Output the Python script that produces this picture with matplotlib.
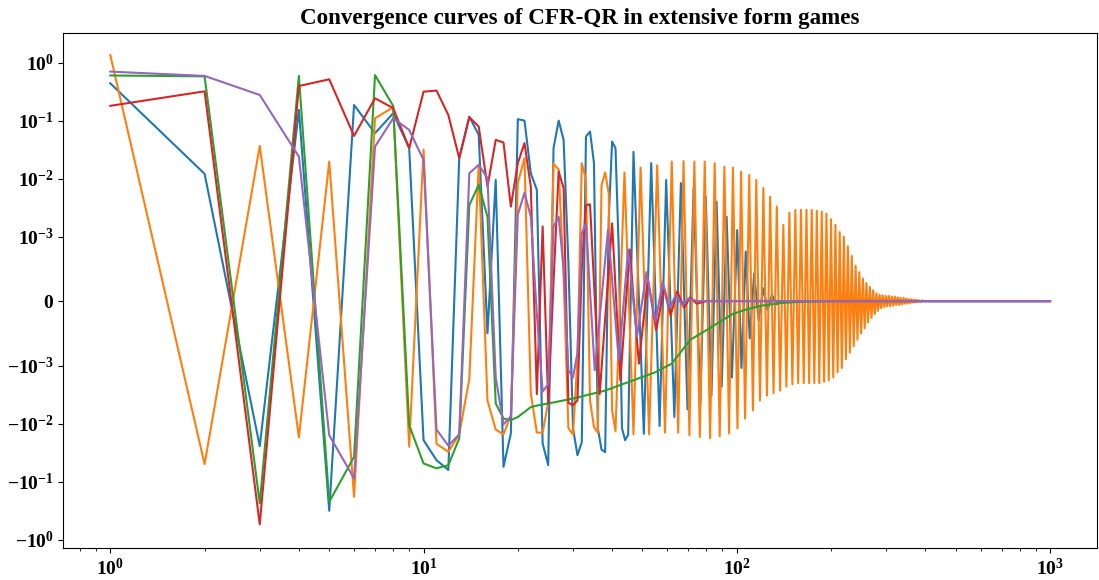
import matplotlib
matplotlib.use("Agg")
import matplotlib.pyplot as plt
from matplotlib.ticker import NullLocator

plt.rcParams['font.family'] = ['Liberation Serif', 'DejaVu Serif']
plt.rcParams['font.weight'] = 'bold'

# Iterations: every iteration at the start, then only the turning points
# of the oscillations, then the flat tail.
it_blue = list(range(1, 46)) + [
    46.8, 50.5, 53.3, 56.7, 59.5, 63.2, 66.3, 69.6, 72.8, 76.5, 79.6, 83,
    86.2, 89.5, 92.8, 96.5, 100.3, 103.5, 106.8, 110, 113.6, 117.5, 121.5,
    125.5, 129.5, 134, 140, 1000]
blue = [
    0.44, 0.0121, -0.0245, 0.153, -0.318, 0.186, 0.0607, 0.134, 0.0335, -0.0193,
    -0.0427, -0.063, 0.0225, 0.117, 0.057, -0.0005, 0.0095, -0.0556, -0.0148, 0.106,
    0.10, 0.0124, 0.0064, -0.022, -0.052, 0.0335, 0.10, 0.0466, 0.0006, -0.012,
    -0.035, -0.021, 0.053, 0.065, 0.0185, -0.012, -0.028, -0.031, 0.002, 0.0436,
    0.0335, 0.0008, -0.012, -0.0193, -0.0155,
    0.029, -0.015, 0.0185, -0.011, 0.0095, -0.0077, 0.0084, -0.0057, 0.0069, -0.0045,
    0.0049, -0.0033, 0.0040, -0.0023, 0.0022, -0.0016, 0.0013, -0.0011, 0.00077,
    -0.00058, 0.00043, -0.0003, 0.0002, -0.00014, 0.0001, -0.00005, 0.0, 0.0]

it_orange = list(range(1, 42)) + [
    43.8, 46.8, 49.3, 52.5, 55.7, 59, 62, 65, 67.6, 70.6, 73.2, 76.2, 79, 82.2,
    85, 88.2, 91.3, 94.5, 97.2, 100.5, 103.2, 106.3, 109.6, 112.6, 115.4, 118.6,
    121.6, 124.8, 127.8, 131, 134.2, 137.5, 140.8, 144, 147.2, 150.5, 153.8, 157,
    160.3, 163.6, 166.9, 170.2, 173.5, 176.8, 180.1, 183.4, 186.7, 190, 193.3,
    196.6, 199.9, 203.2, 206.5, 209.8, 213.1, 216.4, 219.7, 223, 226.3, 229.6,
    232.9, 236.2, 239.5, 242.8, 246.1, 249.4, 252.7, 256, 259.3, 262.6, 265.9,
    269.2, 272.5, 275.8, 279.1, 282.4, 285.7, 289, 292.3, 295.6, 299, 302, 305.5,
    309, 312.5, 316, 319.5, 323, 326.5, 330, 333.5, 337, 340.5, 344, 347.5, 351,
    354.5, 358, 361.5, 365, 368.5, 372, 375.5, 379, 382.5, 386, 389.5, 400, 1000]
orange = [
    1.35, -0.05, 0.0367, -0.0173, 0.0197, -0.183, 0.11, 0.17, -0.025, 0.0316,
    -0.0223, -0.0307, -0.0153, -0.0017, 0.0173, -0.004, -0.0127, -0.0153, -0.0072, 0.0084,
    0.0225, -0.003, -0.0143, -0.0143, -0.0043, 0.018, 0.0144, 0.0004, -0.012, -0.0153,
    -0.0009, 0.0185, 0.0095, -0.004, -0.0114, -0.0143, 0.0077, 0.0128, 0.0056, -0.006,
    -0.0135,
    0.0128, -0.0153, 0.0155, -0.0153, 0.017, -0.0143, 0.0197, -0.0143, 0.02, -0.016,
    0.0197, -0.017, 0.0197, -0.018, 0.0185, -0.0165, 0.0161, -0.0148, 0.0155, -0.0121,
    0.0132, -0.0082, 0.0116, -0.0059, 0.0095, -0.004, 0.0069, -0.0033, 0.0049, -0.003,
    0.0033, -0.0027, 0.0016, -0.0023, 0.0026, -0.0021, 0.0029, -0.002, 0.0029, -0.002,
    0.0029, -0.002, 0.0029, -0.002, 0.0028, -0.002, 0.0027, -0.0019, 0.0025, -0.0018,
    0.0020, -0.0016, 0.0016, -0.0013, 0.0012, -0.0011, 0.0010, -0.0009, 0.00085, -0.0008,
    0.0007, -0.0007, 0.00055, -0.0006, 0.00045, -0.0005, 0.00035, -0.00042, 0.00028, -0.00033,
    0.00022, -0.00026, 0.00017, -0.0002, 0.00012, -0.00015, 0.0001, -0.00011, 0.00009, -0.00009,
    0.00008, -0.00008, 0.00008, -0.00008, 0.00007, -0.00007, 0.00007, -0.00006, 0.00006, -0.00006,
    0.00005, -0.00005, 0.00005, -0.00004, 0.00004, -0.00004, 0.00003, -0.00003, 0.00003, -0.00002,
    0.00002, -0.00002, 0.00002, -0.00001, 0.00001, -0.00001, 0.00001, 0.0, 0.0]

it_green = list(range(1, 24)) + [
    25, 30, 38, 48, 55, 62, 71, 80, 87, 97, 107, 120, 138, 160, 200, 1000]
green = [
    0.60, 0.58, -0.237, 0.59, -0.223, -0.0374, 0.61, 0.179, -0.0107, -0.0486,
    -0.059, -0.052, -0.018, 0.0035, 0.0078, 0.0022, -0.0045, -0.0082, -0.0087, -0.0077,
    -0.0063, -0.0052, -0.0049,
    -0.0045, -0.0037, -0.0027, -0.0017, -0.0013, -0.00097, -0.0006, -0.00045, -0.00034,
    -0.0002, -0.00013, -0.00007, -0.00003, -0.00001, 0.0, 0.0]

it_red = list(range(1, 35)) + [
    36.5, 40, 42.5, 45.5, 48.7, 52, 55.3, 58.5, 61.5, 64.5, 68, 71, 74.5, 80, 1000]
red = [
    0.18, 0.32, -0.546, 0.395, 0.516, 0.0545, 0.243, 0.164, 0.0335, 0.315,
    0.33, 0.125, 0.0225, 0.115, 0.079, 0.0073, 0.0466, 0.042, 0.0033, 0.0185,
    0.041, 0.0073, -0.0031, 0.0015, -0.0045, 0.0003, 0.0132, 0.0069, -0.0044, -0.0048,
    -0.004, 0.0005, 0.0035, 0.0036,
    -0.0031, 0.0017, -0.0018, 0.0008, -0.00097, 0.00035, -0.00045, 0.0002, -0.00022,
    0.00015, -0.0001, 0.00006, -0.00004, 0.0, 0.0]

it_purple = list(range(1, 34)) + [
    35.2, 38.8, 42, 45, 48, 51.5, 55, 58, 61, 64, 67, 70, 75, 1000]
purple = [
    0.70, 0.59, 0.277, 0.024, -0.0159, -0.088, 0.0356, 0.11, 0.069, 0.021,
    -0.0127, -0.024, -0.0153, 0.0124, 0.0173, 0.0102, -0.0016, -0.0103, -0.0075, 0.0024,
    0.0057, 0.0022, -0.0002, -0.0028, -0.0021, 0.0015, 0.0022, 0.0005, -0.0012, -0.0016,
    -0.0008, 0.00115, 0.0017,
    -0.0012, 0.0013, -0.00092, 0.0008, -0.00055, 0.00045, -0.00032, 0.0003, -0.00011,
    0.0001, -0.00007, 0.00004, 0.0, 0.0]

fig = plt.figure(figsize=(10.99, 5.8), dpi=100)
ax = fig.add_axes([0.0576, 0.0553, 0.9406, 0.887])

ax.plot(it_blue, blue, color='tab:blue')
ax.plot(it_orange, orange, color='tab:orange')
ax.plot(it_green, green, color='tab:green')
ax.plot(it_red, red, color='tab:red')
ax.plot(it_purple, purple, color='tab:purple')

ax.set_xscale('log')
ax.set_yscale('symlog', linthresh=1e-3)
ax.yaxis.set_minor_locator(NullLocator())
ax.set_ylim(-1.39, 3.18)
ax.tick_params(labelsize=14)
ax.set_title('Convergence curves of CFR-QR in extensive form games',
             fontsize=16.6, fontweight='bold', pad=7)

fig.savefig('out.png', dpi=100)
